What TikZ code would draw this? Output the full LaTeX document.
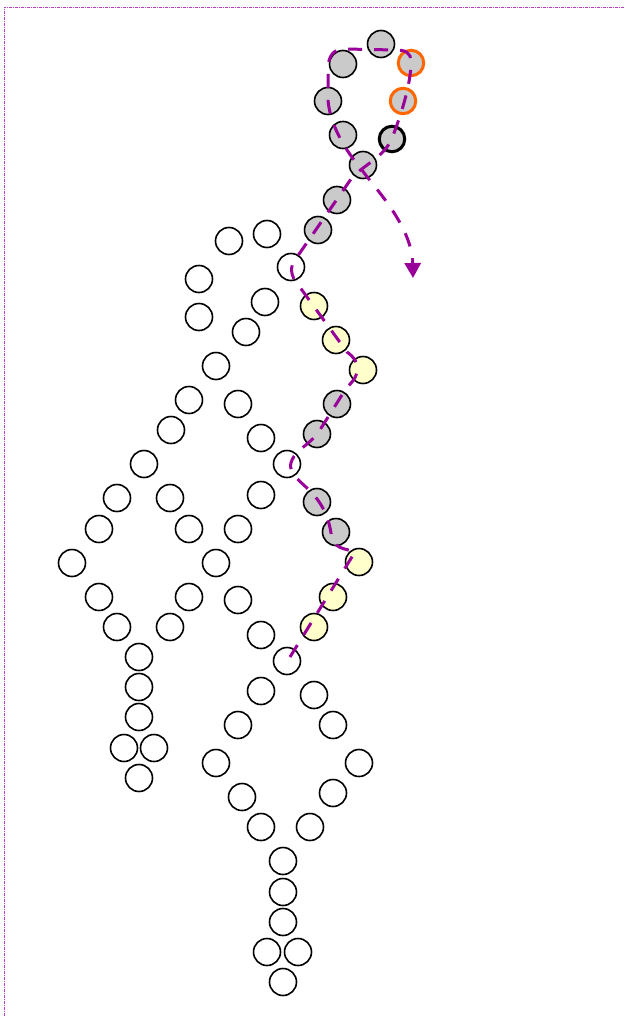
\documentclass[tikz,border=0pt]{standalone}
\usetikzlibrary{arrows.meta}
\definecolor{route}{RGB}{153,0,153}
\definecolor{framec}{RGB}{190,60,190}
\definecolor{grayfill}{RGB}{202,202,202}
\definecolor{yellowfill}{RGB}{255,255,204}
\definecolor{orangeline}{RGB}{255,102,0}
\tikzset{
  bead/.style={circle,draw=black,line width=1.6pt,minimum size=27pt,inner sep=0pt,fill=white},
  graybead/.style={bead,fill=grayfill},
  yellowbead/.style={bead,fill=yellowfill},
  orangebead/.style={bead,fill=grayfill,draw=orangeline,line width=3pt,minimum size=25.5pt},
  boldbead/.style={bead,fill=grayfill,line width=3pt,minimum size=25.5pt},
  routeline/.style={draw=route,line width=3pt,dash pattern=on 14pt off 12pt,-{Triangle[width=16pt,length=15pt]}},
  frameline/.style={draw=framec,line width=0.6pt,dash pattern=on 3pt off 1pt on 1pt off 1pt}
}
\begin{document}
\begin{tikzpicture}[x=1pt,y=-1pt]
\useasboundingbox (0,0) rectangle (624,1017);
\coordinate (fc) at (4,7);
\coordinate (fr) at (624,7);
\coordinate (fb) at (4,1017);
\draw[frameline] (fr) -- (fc) -- (fb);
% white beads
\foreach \px/\py [count=\i] in {229/241,267/234,199/279,265/302,199/317,246/332,216/366,189/400,238/404,171/430,261/438,144/464,117/498,170/498,261/495,99/529,189/529,238/529,72/563,216/563,99/597,189/597,238/600,117/627,170/627,261/635,139/657,139/687,261/691,314/695,139/717,238/725,333/725,124/748,154/748,139/778,216/763,359/763,242/797,333/793,261/827,310/827,283/861,283/892,283/922,267/952,298/952,283/982,291/267,287/464,287/661}
  \node[bead] (w\i) at (\px,\py) {};
% gray beads
\foreach \px/\py [count=\i] in {381/44,343/64,328/101,343/135,363/165,337/200,318/230,337/404,317/434,317/502,336/532}
  \node[graybead] (g\i) at (\px,\py) {};
\node[orangebead] (o1) at (411,63) {};
\node[orangebead] (o2) at (403,101) {};
\node[boldbead] (b1) at (392,139) {};
% yellow beads
\foreach \px/\py [count=\i] in {314/306,336/340,363/370,359/562,333/597,314/627}
  \node[yellowbead] (y\i) at (\px,\py) {};
% route
\coordinate (rs) at (290,657);
\coordinate (re) at (413,278);
\draw[routeline] (rs) -- (355,552)
  .. controls (345,548) and (333,550) .. (331,533)
  .. controls (328,514) and (320,500) .. (307,488)
  .. controls (296,478) and (287,470) .. (292,460)
  .. controls (296,450) and (310,444) .. (318,433)
  -- (347,387)
  .. controls (361,375) and (361,362) .. (347,352)
  -- (299,286)
  .. controls (290,276) and (289,266) .. (297,257)
  -- (351,179)
  .. controls (360,167) and (385,157) .. (392,138)
  .. controls (400,118) and (411,85) .. (411,62)
  .. controls (411,52) and (405,50) .. (395,50)
  -- (345,49)
  .. controls (333,49) and (328,56) .. (328,70)
  -- (328,100)
  .. controls (330,125) and (345,150) .. (362,170)
  .. controls (372,185) and (412,225) .. (re);
\end{tikzpicture}
\end{document}
